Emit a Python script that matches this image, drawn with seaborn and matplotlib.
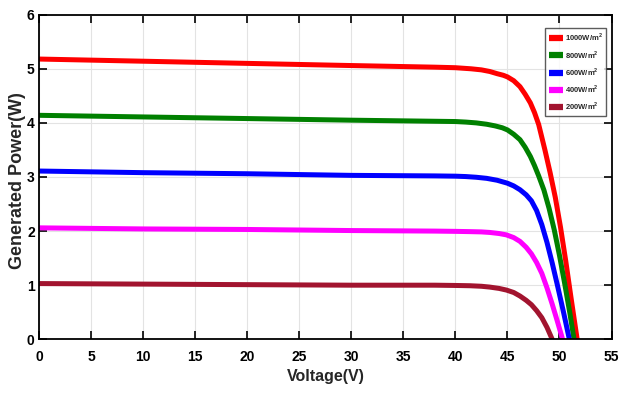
import matplotlib
matplotlib.use("Agg")
import matplotlib.pyplot as plt
import seaborn as sns
import pandas as pd

# Irradiance levels and their curves (voltage in V, generated power in W)
levels = ["1000W/m$^{\\mathregular{2}}$", "800W/m$^{\\mathregular{2}}$",
          "600W/m$^{\\mathregular{2}}$", "400W/m$^{\\mathregular{2}}$",
          "200W/m$^{\\mathregular{2}}$"]
colors = ["#ff0000", "#008000", "#0000ff", "#ff00ff", "#a2142f"]

v_1000 = [0, 10, 20, 30, 38, 40, 41.5, 42.5, 43.3, 44.0, 44.6, 45.0, 45.6, 46.2, 46.7,
          47.2, 47.6, 48.0, 48.6, 49.1, 49.6, 50.1, 50.6, 51.1, 51.7]
p_1000 = [5.18, 5.14, 5.10, 5.06, 5.03, 5.02, 5.00, 4.98, 4.95, 4.91, 4.88, 4.85, 4.78, 4.67, 4.53,
          4.37, 4.19, 3.97, 3.50, 3.08, 2.62, 2.07, 1.45, 0.78, 0.0]

v_800 = [0, 10, 20, 30, 38, 40, 41, 42, 43, 43.8, 44.5, 45.0, 45.6, 46.2, 46.7, 47.2, 47.6,
         48.0, 48.5, 49.0, 49.5, 50.0, 50.5, 51.0, 51.4]
p_800 = [4.14, 4.11, 4.08, 4.05, 4.03, 4.025, 4.015, 4.00, 3.975, 3.945, 3.91, 3.87, 3.79, 3.69, 3.55,
         3.38, 3.21, 3.02, 2.76, 2.42, 2.02, 1.55, 1.03, 0.48, 0.0]

v_600 = [0, 10, 20, 30, 38, 40, 41, 42, 43, 44, 45, 45.6, 46.2, 46.8, 47.3, 47.8,
         48.3, 48.8, 49.3, 49.8, 50.4, 50.95]
p_600 = [3.11, 3.08, 3.06, 3.03, 3.02, 3.015, 3.008, 2.995, 2.975, 2.94, 2.885, 2.835, 2.765, 2.67, 2.56,
         2.38, 2.12, 1.79, 1.41, 1.00, 0.49, 0.0]

v_400 = [0, 10, 20, 30, 38, 40, 41.4, 42.5, 43.3, 44.2, 44.9, 45.6, 46.2, 46.8, 47.3, 47.8,
         48.3, 48.8, 49.3, 49.8, 50.3]
p_400 = [2.06, 2.04, 2.03, 2.01, 2.00, 1.995, 1.99, 1.985, 1.975, 1.955, 1.93, 1.88, 1.81, 1.70, 1.58, 1.42,
         1.22, 0.95, 0.65, 0.33, 0.0]

v_200 = [0, 10, 20, 30, 38, 40, 41.4, 42.5, 43.3, 44.2, 44.9, 45.6, 46.2, 46.8, 47.3, 47.8,
         48.3, 48.8, 49.3]
p_200 = [1.03, 1.02, 1.01, 1.00, 1.00, 0.995, 0.99, 0.98, 0.965, 0.94, 0.91, 0.865, 0.80, 0.72, 0.64, 0.53,
         0.40, 0.22, 0.0]

x_ticks = [0, 5, 10, 15, 20, 25, 30, 35, 40, 45, 50, 55]
y_ticks = [0, 1, 2, 3, 4, 5, 6]

voltages = [v_1000, v_800, v_600, v_400, v_200]
powers = [p_1000, p_800, p_600, p_400, p_200]

frames = []
for lab, v, p in zip(levels, voltages, powers):
    frames.append(pd.DataFrame({"Voltage": v, "Power": p, "Irradiance": lab}))
df = pd.concat(frames, ignore_index=True)

sns.set_style("white")
base = ["Liberation Sans", "DejaVu Sans"]
plt.rcParams["font.family"] = base
plt.rcParams["font.weight"] = "bold"
plt.rcParams["mathtext.fontset"] = "custom"
plt.rcParams["mathtext.rm"] = "Liberation Sans:bold"

fig = plt.figure(figsize=(6.35, 3.96), dpi=100)
ax = fig.add_axes([0.0619, 0.1432, 0.9011, 0.8197])

sns.lineplot(data=df, x="Voltage", y="Power", hue="Irradiance",
             palette=dict(zip(levels, colors)), hue_order=levels,
             estimator=None, sort=False, linewidth=3.6, ax=ax, legend=False)
for ln in ax.get_lines():
    ln.set_solid_joinstyle("round")

ax.set_xlim(0, 55)
ax.set_ylim(0, 6)
ax.set_xticks(x_ticks)
ax.set_yticks(y_ticks)
ax.set_xticklabels([str(t) for t in x_ticks], fontsize=10, fontweight="bold")
ax.set_yticklabels([str(t) for t in y_ticks], fontsize=10, fontweight="bold")
ax.grid(True, color="#e3e3e3", linewidth=0.8)
ax.set_axisbelow(True)
ax.tick_params(direction="in", length=6, width=1.2, top=True, right=True,
               bottom=True, left=True, colors="black")
ax.tick_params(axis="x", pad=8)
ax.tick_params(axis="y", pad=3.3)
for s in ax.spines.values():
    s.set_color("black")
    s.set_linewidth(1.3)

ax.set_xlabel("Voltage(V)", fontsize=11.5, fontweight="bold")
ax.set_ylabel("Generated Power(W)", fontsize=13, fontweight="bold")
ax.xaxis.set_label_coords(0.5, -0.093)
ax.yaxis.set_label_coords(-0.024, 0.49)

handles = [plt.Line2D([], [], color=c, linewidth=4.5, solid_capstyle="butt") for c in colors]
leg = fig.legend(handles, levels, loc="upper right",
                 bbox_to_anchor=(606 / 635, 1 - 28 / 396),
                 prop={"family": base, "weight": "bold", "size": 5.5},
                 handlelength=1.9, handletextpad=0.2, labelspacing=0.68,
                 borderpad=0.45, borderaxespad=0.0, frameon=True, fancybox=False)
leg.get_frame().set_edgecolor("#333333")
leg.get_frame().set_linewidth(1.0)

fig.savefig("out.png", dpi=100)
